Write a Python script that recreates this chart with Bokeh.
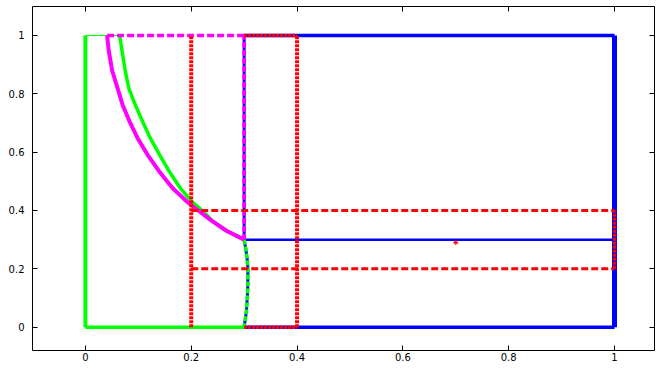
from bokeh.plotting import figure
from bokeh.models import Range1d, FixedTicker, LinearAxis
from bokeh.embed import file_html
from bokeh.resources import INLINE

# ---- data ----
tick_values = [0.0, 0.2, 0.4, 0.6, 0.8, 1.0]
tick_labels = ["0", "0.2", "0.4", "0.6", "0.8", "1"]

# blue region
blue_x = [0.3, 1.0]
blue_y = [0.0, 1.0]
blue_mid_y = 0.3

# red strips
red_strip_x = [0.2, 0.4]
red_band_y = [0.2, 0.4]

# green region
green_x = [0.0, 0.3]
green_top_end = 0.0648

# magenta curve (upper boundary)
magenta_curve_x = [0.041, 0.044, 0.0505, 0.061, 0.0705, 0.0837, 0.0989, 0.1178, 0.1399,
                   0.165, 0.1922, 0.2079, 0.2363, 0.2665, 0.3]
magenta_curve_y = [1.0, 0.949, 0.880, 0.818, 0.761, 0.704, 0.647, 0.590, 0.533,
                   0.476, 0.430, 0.4075, 0.368, 0.3305, 0.3]

# green curve (upper boundary)
green_curve_x = [0.0648, 0.069, 0.0752, 0.0822, 0.0945, 0.1083, 0.1229, 0.1405, 0.1588,
                 0.1796, 0.2017, 0.2174, 0.2306, 0.2405, 0.2665, 0.3]
green_curve_y = [1.0, 0.949, 0.880, 0.818, 0.761, 0.704, 0.647, 0.590, 0.533,
                 0.476, 0.430, 0.405, 0.382, 0.363, 0.3305, 0.3]

# lower bulge between blue and green
bulge_x = [0.3, 0.303, 0.306, 0.307, 0.307, 0.306, 0.304, 0.3]
bulge_y = [0.3, 0.27, 0.23, 0.2, 0.15, 0.1, 0.05, 0.0]

star_x = [0.7]
star_y = [0.29]

BLUE = "#0000ff"
GREEN = "#00ff00"
MAGENTA = "#ff00ff"
RED = "#ff0000"

p = figure(width=655, height=363, output_backend="svg", toolbar_location=None,
           x_range=Range1d(-0.1, 1.0756), y_range=Range1d(-0.08, 1.0993),
           min_border_left=32, min_border_right=1, min_border_top=6, min_border_bottom=0)
p.grid.visible = False
p.outline_line_color = "#000000"
p.outline_line_width = 1
p.background_fill_color = "white"
p.border_fill_color = "white"

def style_axis(ax, labels=True):
    ax.ticker = FixedTicker(ticks=tick_values)
    ax.axis_line_color = None
    ax.major_tick_in = 5
    ax.major_tick_out = 0
    ax.minor_tick_line_color = None
    ax.major_tick_line_color = "#000000"
    ax.major_label_text_font = "DejaVu Sans"
    ax.major_label_text_color = "#000000"
    if labels:
        ax.major_label_overrides = {v: s for v, s in zip(tick_values, tick_labels)}
        ax.major_label_text_font_size = "10px"
        ax.major_label_standoff = 2
    else:
        ax.major_label_overrides = {v: "" for v in tick_values}
        ax.major_label_text_font_size = "1px"
        ax.major_label_standoff = 0

style_axis(p.xaxis[0])
style_axis(p.yaxis[0])
p.yaxis[0].major_label_standoff = 8
top_ax = LinearAxis()
right_ax = LinearAxis()
style_axis(top_ax, labels=False)
style_axis(right_ax, labels=False)
p.add_layout(top_ax, "above")
p.add_layout(right_ax, "right")

# ---- blue region ----
p.line([blue_x[0], blue_x[1]], [blue_y[1], blue_y[1]], color=BLUE, line_width=3.5)
p.line([blue_x[0], blue_x[1]], [blue_y[0], blue_y[0]], color=BLUE, line_width=3.5)
p.line([blue_x[1], blue_x[1]], [blue_y[0], blue_y[1]], color=BLUE, line_width=5)
p.line([blue_x[0], blue_x[1]], [blue_mid_y, blue_mid_y], color=BLUE, line_width=2.5)
p.line([blue_x[0], blue_x[0]], [blue_mid_y, blue_y[1]], color=BLUE, line_width=3)
p.line(bulge_x, bulge_y, color=BLUE, line_width=3)

# ---- green region ----
p.line([green_x[0], green_x[0]], [0.0, 1.0], color=GREEN, line_width=4)
p.line([green_x[0], green_x[1]], [0.0, 0.0], color=GREEN, line_width=3.5)
p.line([green_x[0], green_top_end], [1.0, 1.0], color=GREEN, line_width=1)
p.line(green_curve_x, green_curve_y, color=GREEN, line_width=3.5, line_join="round")
p.line(bulge_x, bulge_y, color=GREEN, line_width=3.5, line_dash="5 2")

# ---- magenta region ----
p.line(magenta_curve_x, magenta_curve_y, color=MAGENTA, line_width=4, line_join="round")
p.line([magenta_curve_x[0], blue_x[0]], [1.0, 1.0], color=MAGENTA, line_width=3.5, line_dash="7 3")
p.line([blue_x[0], blue_x[0]], [blue_mid_y, 1.0], color=MAGENTA, line_width=3.5, line_dash="6 2")

# ---- red strips ----
for xv in red_strip_x:
    p.line([xv, xv], [0.0, 1.0], color=RED, line_width=4, line_dash="3 1")
for yv in [0.0, 1.0]:
    p.line([blue_x[0], red_strip_x[1]], [yv, yv], color=RED, line_width=3.5, line_dash="3 1")
for yv in red_band_y:
    p.line([red_strip_x[0], blue_x[1]], [yv, yv], color=RED, line_width=3, line_dash="7 3")
p.line([blue_x[1], blue_x[1]], red_band_y, color=RED, line_width=3.5, line_dash="3 1")

p.scatter(star_x, star_y, marker="asterisk", size=5, line_color=RED, line_width=1)

open("out.html", "w").write(file_html(p, INLINE))
